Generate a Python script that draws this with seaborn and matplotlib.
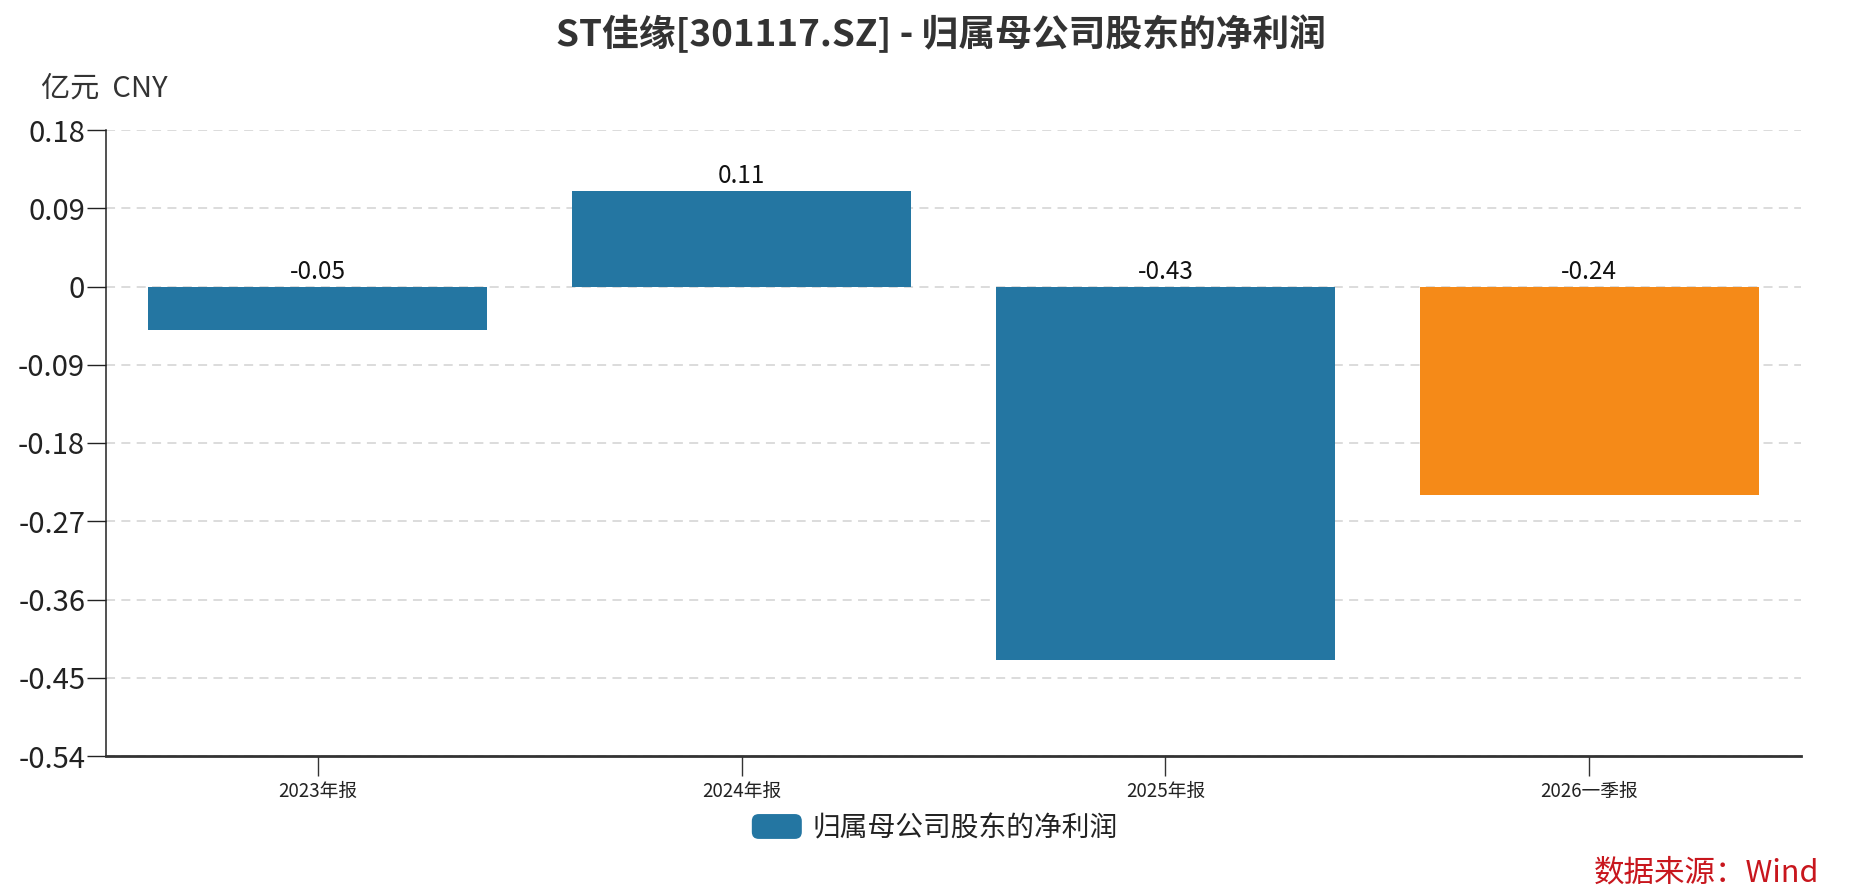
import matplotlib
matplotlib.use("Agg")
import matplotlib.pyplot as plt
import seaborn as sns
from matplotlib.patches import FancyBboxPatch, Patch
from matplotlib.legend_handler import HandlerPatch

# ---- data ----
categories = ["2023年报", "2024年报", "2025年报", "2026一季报"]
values = [-0.05, 0.11, -0.43, -0.24]
value_labels = ["-0.05", "0.11", "-0.43", "-0.24"]
bar_colors = ["#2476a2", "#2476a2", "#2476a2", "#f58a18"]
yticks = [0.18, 0.09, 0, -0.09, -0.18, -0.27, -0.36, -0.45, -0.54]
ytick_labels = ["0.18", "0.09", "0", "-0.09", "-0.18", "-0.27", "-0.36", "-0.45", "-0.54"]
series_name = "归属母公司股东的净利润"
title = "ST佳缘[301117.SZ] - 归属母公司股东的净利润"
unit = "亿元  CNY"
source = "数据来源：Wind"

sns.set_theme(style="white")
plt.rcParams["font.family"] = ["Noto Sans CJK SC", "DejaVu Sans"]
plt.rcParams["axes.unicode_minus"] = False

fig = plt.figure(figsize=(18.52, 8.91), dpi=100)
ax = fig.add_axes([106 / 1852, 1 - 756 / 891, (1801 - 106) / 1852, (756 - 130) / 891])

sns.barplot(x=categories, y=values, hue=categories, palette=bar_colors,
            legend=False, width=0.8, saturation=1, ax=ax, edgecolor="none")

ax.set_xlim(-0.5, 3.5)
ax.set_ylim(-0.54, 0.18)
ax.set_yticks(yticks)
ax.set_yticklabels(ytick_labels, fontsize=21, color="#222222")
ax.tick_params(axis="x", bottom=True, labelsize=13.5, labelcolor="#222222", color="#333333",
               length=14.4, width=1.0, direction="out", pad=3.5)
ax.tick_params(axis="y", left=True, length=13.5, width=1.0, direction="out", pad=1.5,
               color="#222222")
ax.set_xlabel("")
ax.set_ylabel("")

ax.set_axisbelow(True)
ax.yaxis.grid(True, linestyle=(0, (5, 3.5)), color="#d9d9d9", linewidth=1.3)
ax.xaxis.grid(False)
for s in ["top", "right"]:
    ax.spines[s].set_visible(False)
ax.spines["left"].set_color("#222222")
ax.spines["left"].set_linewidth(1.1)
ax.spines["bottom"].set_color("#333333")
ax.spines["bottom"].set_linewidth(2.0)

for i, (v, lab) in enumerate(zip(values, value_labels)):
    ax.annotate(lab, xy=(i, max(v, 0)), xytext=(0, 1), textcoords="offset points",
                ha="center", va="bottom", fontsize=17.5, color="#111111")

fig.text(0.508, 1 - 35 / 891, title, ha="center", va="center",
         fontsize=26.5, fontweight="bold", color="#333333")
fig.text(41 / 1852, 1 - 89 / 891, unit, ha="left", va="center",
         fontsize=21, color="#333333")
fig.text(1819 / 1852, 1 - 873 / 891, source, ha="right", va="center",
         fontsize=22, color="#c8161d")


class RoundHandler(HandlerPatch):
    def create_artists(self, legend, orig_handle, xdescent, ydescent, width, height, fontsize, trans):
        p = FancyBboxPatch((-xdescent, -ydescent), width, height,
                           boxstyle="round,pad=0,rounding_size=5",
                           facecolor=orig_handle.get_facecolor(), edgecolor="none",
                           transform=trans)
        return [p]


handle = Patch(facecolor="#2476a2")
fig.legend([handle], [series_name], loc="center", bbox_to_anchor=(935 / 1852, 1 - 828 / 891),
           frameon=False, fontsize=20, handlelength=1.8, handleheight=1.0,
           handletextpad=0.4, handler_map={Patch: RoundHandler()},
           labelcolor="#222222")

fig.savefig("out.png", dpi=100, facecolor="white")
